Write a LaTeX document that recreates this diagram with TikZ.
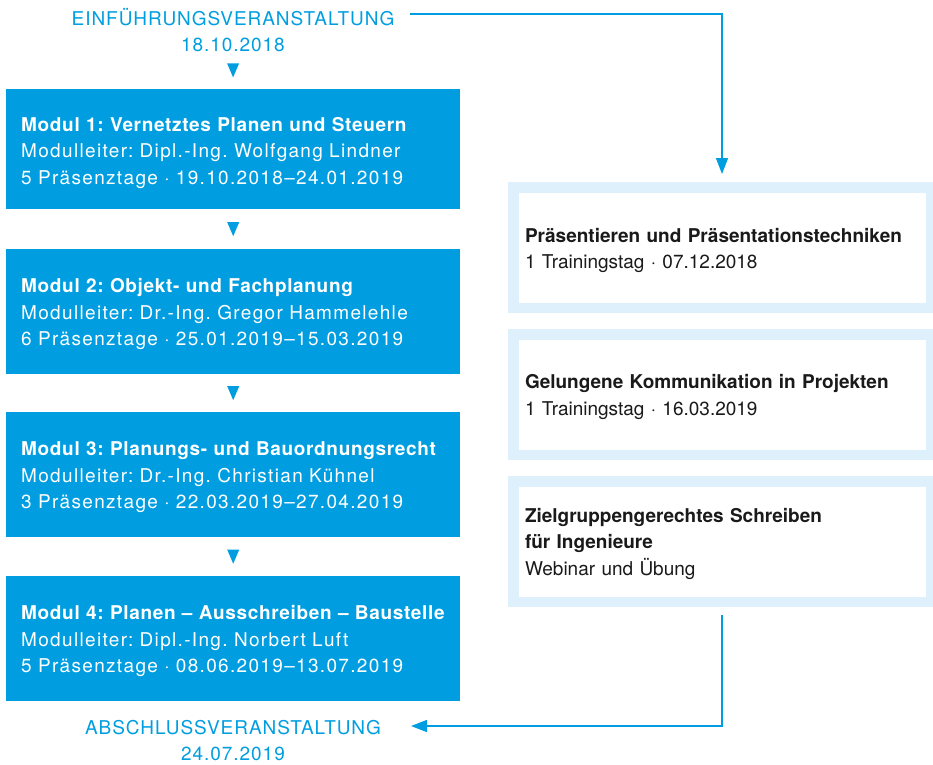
\documentclass[tikz,border=0pt]{standalone}
\usepackage{fontspec}
\setmainfont{TeX Gyre Heros}
\newfontfamily\modfont[LetterSpace=7,BoldFeatures={LetterSpace=3.5}]{TeX Gyre Heros}
\newfontfamily\capsfont[LetterSpace=5]{TeX Gyre Heros}
\usetikzlibrary{arrows.meta,calc}
\definecolor{modblue}{HTML}{009EE0}
\definecolor{paleblue}{HTML}{DDF0FB}
\definecolor{ink}{HTML}{1A1A1A}
\frenchspacing

\begin{document}
\begin{tikzpicture}[x=1pt,y=-1pt,
	font=\fontsize{19}{26.5}\selectfont,
	modul/.style={fill=modblue,text=white,anchor=north west,minimum width=454pt,text width=424pt,
		inner xsep=15pt,inner ysep=0pt,align=left,text depth=52pt,font=\fontsize{19}{26.5}\selectfont\modfont},
	seminar/.style={draw=paleblue,line width=10.5pt,fill=white,text=ink,minimum width=417.5pt,
		minimum height=120.5pt,text width=394pt,inner xsep=11.75pt,align=left,text depth=26pt},
	event/.style={text=modblue,align=center,inner sep=0pt,text depth=0pt,font=\fontsize{19}{26.5}\selectfont\capsfont},
	link/.style={draw=modblue,line width=1.5pt,-{Triangle[length=16pt,width=12pt]}}]
	\useasboundingbox (0,0) rectangle (933,764);

	% Start- und Abschlussveranstaltung
	\node[event] (start) at (233,29.75) {EINFÜHRUNGSVERANSTALTUNG\\18.10.2018};
	\node[event] (ende) at (233,740.5) {ABSCHLUSSVERANSTALTUNG\\24.07.2019};

	% die vier Module
	\node[modul,minimum height=120pt,text depth=50pt] (m1) at (6,89) {\textbf{Modul 1: Vernetztes Planen und Steuern}\\Modulleiter: Dipl.-Ing. Wolfgang Lindner\\5 Präsenztage · 19.10.2018–24.01.2019};
	\node[modul,minimum height=125pt] (m2) at (6,249) {\textbf{Modul 2: Objekt- und Fachplanung}\\Modulleiter: Dr.-Ing. Gregor Hammelehle\\6 Präsenztage · 25.01.2019–15.03.2019};
	\node[modul,minimum height=125pt] (m3) at (6,412) {\textbf{Modul 3: Planungs- und Bauordnungsrecht}\\Modulleiter: Dr.-Ing. Christian Kühnel\\3 Präsenztage · 22.03.2019–27.04.2019};
	\node[modul,minimum height=125pt] (m4) at (6,576) {\textbf{Modul 4: Planen – Ausschreiben – Baustelle}\\Modulleiter: Dipl.-Ing. Norbert Luft\\5 Präsenztage · 08.06.2019–13.07.2019};

	% Zusatztrainings
	\node[seminar,text depth=25pt] (p1) at (722,247.5) {\textbf{Präsentieren und Präsentationstechniken}\\1 Trainingstag · 07.12.2018};
	\node[seminar] (p2) at (722,394.5) {\textbf{Gelungene Kommunikation in Projekten}\\1 Trainingstag · 16.03.2019};
	\node[seminar,text depth=53pt] (p3) at (722,541.5) {\textbf{Zielgruppengerechtes Schreiben}\\\textbf{für Ingenieure}\\Webinar und Übung};

	\foreach \a/\b in {start/m1,m1/m2,m2/m3,m3/m4}
		\fill[modblue] ($(\a.south)!.5!(\b.north)$) ++(-6,-7) -- ++(12,0) -- ++(-6,14) -- cycle;

	\coordinate (startout) at (410,14);
	\coordinate (endin) at (411,726);
	\draw[link,shorten >=8pt] (startout) -| (p1.north);
	\draw[link,shorten <=8pt] (p3.south) |- (endin);
\end{tikzpicture}
\end{document}
